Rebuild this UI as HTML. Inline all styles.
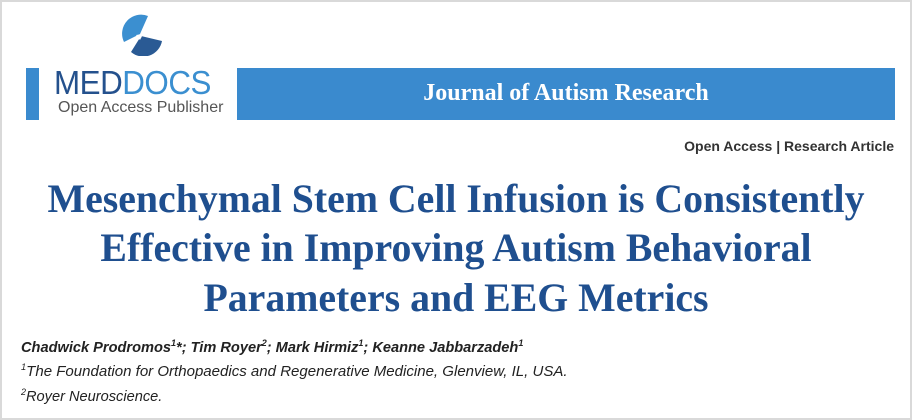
<!DOCTYPE html>
<html><head><style>
body{margin:0;width:912px;height:420px;background:#fff;overflow:hidden;position:relative;font-family:"Liberation Sans",sans-serif}
.frame{position:absolute;left:0;top:0;width:908px;height:416px;border:2px solid #d9d9d9}
.a{position:absolute;white-space:nowrap}
.t{font-family:"Liberation Serif",serif;font-weight:bold;color:#1f4f8f;font-size:39.8px;width:912px;text-align:center;left:0}
.s{font-size:14.6px;color:#222;font-style:italic}
</style></head><body>
<div class="frame"></div>
<div class="a" style="left:26px;top:68px;width:13px;height:52px;background:#3a8ace"></div>
<div class="a" style="left:237px;top:68px;width:658px;height:52px;background:#3a8ace"></div>
<div class="a" style="left:237px;top:80px;width:658px;text-align:center;font-family:'Liberation Serif',serif;font-weight:bold;font-size:24px;color:#fff">Journal of Autism Research</div>
<svg class="a" style="left:118px;top:14px" width="46" height="42" viewBox="0 0 46 42">
<path d="M30 2 A19 19 0 0 0 6 28 L22 20 Z" fill="#3b8fd0"/>
<path d="M23 22 L44 27 A19 19 0 0 1 13 38 Z" fill="#2a5a94"/>
<path d="M8 34 L23 22" stroke="#fff" stroke-width="2.5"/>
<path d="M25 20 l-7 1 l4 5z" fill="#fff"/>
</svg>
<div class="a" style="left:54px;top:66px;font-size:33px;letter-spacing:-0.5px;line-height:34px;transform:scaleX(0.95);transform-origin:left"><span style="color:#24518d">MED</span><span style="color:#3b8fd0">DOCS</span></div>
<div class="a" style="left:58px;top:99px;font-size:16px;color:#555">Open Access Publisher</div>
<div class="a" style="right:18px;top:138px;font-size:14px;font-weight:bold;color:#333">Open Access | Research Article</div>
<div class="a t" style="top:176px">Mesenchymal Stem Cell Infusion is Consistently</div>
<div class="a t" style="top:225px">Effective in Improving Autism Behavioral</div>
<div class="a t" style="top:275px">Parameters and EEG Metrics</div>
<div class="a s" style="left:21px;top:338px;font-weight:bold">Chadwick Prodromos<sup style="font-size:9px">1</sup>*; Tim Royer<sup style="font-size:9px">2</sup>; Mark Hirmiz<sup style="font-size:9px">1</sup>; Keanne Jabbarzadeh<sup style="font-size:9px">1</sup></div>
<div class="a s" style="left:21px;top:362px;transform:scaleX(1.03);transform-origin:left"><sup style="font-size:9px">1</sup>The Foundation for Orthopaedics and Regenerative Medicine, Glenview, IL, USA.</div>
<div class="a s" style="left:21px;top:387px"><sup style="font-size:9px">2</sup>Royer Neuroscience.</div>
</body></html>
